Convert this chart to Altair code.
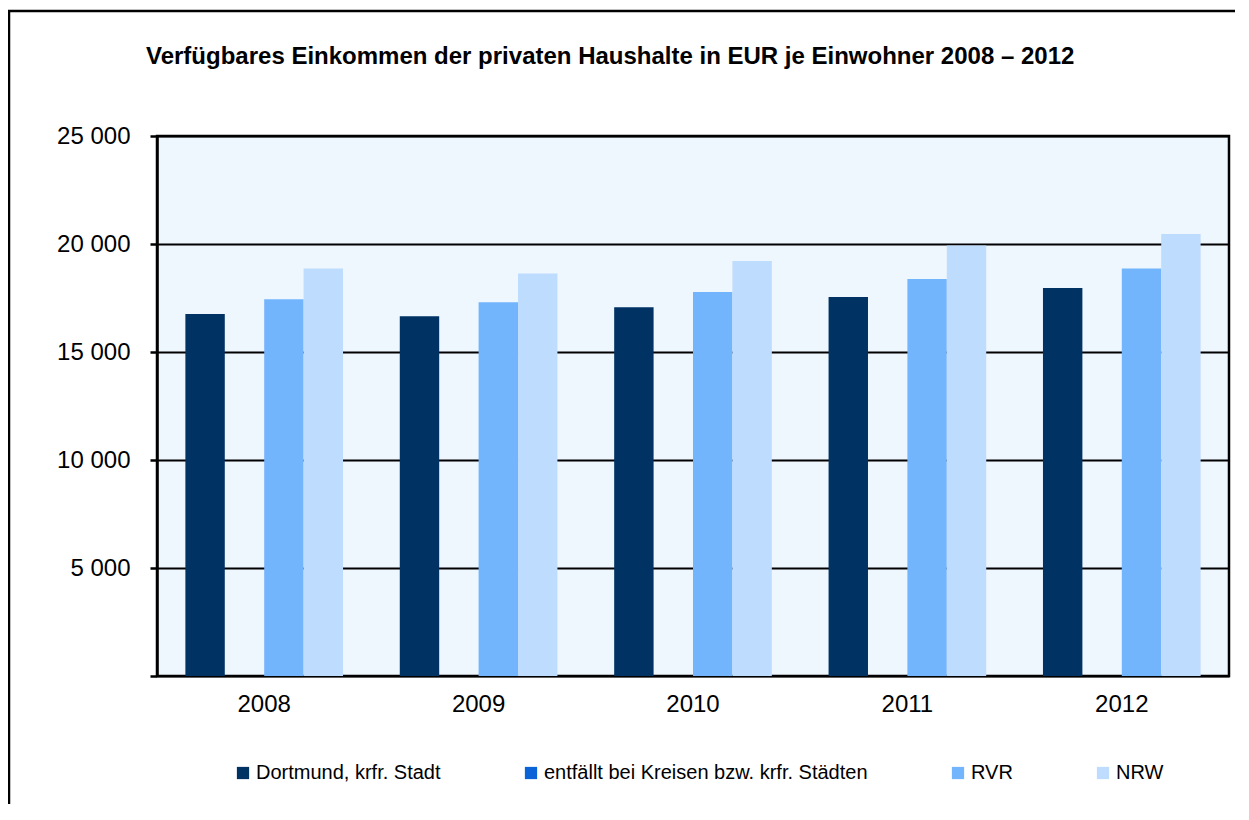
import altair as alt
import pandas as pd

years = ["2008", "2009", "2010", "2011", "2012"]
series = ["Dortmund, krfr. Stadt", "entfällt bei Kreisen bzw. krfr. Städten", "RVR", "NRW"]
dortmund = [16760, 16650, 17070, 17550, 17960]
rvr = [17440, 17300, 17780, 18380, 18870]
nrw = [18860, 18640, 19210, 19930, 20460]
colors = ["#013264", "#0A64D8", "#73B5FC", "#BEDCFE"]
y_ticks = [0, 5000, 10000, 15000, 20000, 25000]
title = "Verfügbares Einkommen der privaten Haushalte in EUR je Einwohner 2008 – 2012"

rows = []
for name, vals in [(series[0], dortmund), (series[2], rvr), (series[3], nrw)]:
    for yr, v in zip(years, vals):
        rows.append({"Jahr": yr, "Reihe": name, "Wert": v})
df = pd.DataFrame(rows)

FONT = "Liberation Sans"

bars = alt.Chart(df).mark_bar(cornerRadius=0).encode(
    x=alt.X("Jahr:N", sort=years, title=None,
            scale=alt.Scale(paddingInner=0, paddingOuter=0),
            axis=alt.Axis(labelAngle=0, ticks=False, domain=False, labelPadding=16,
                          labelFontSize=24, labelFont=FONT, labelColor="black",
                          grid=False)),
    xOffset=alt.XOffset("Reihe:N", sort=series,
                        scale=alt.Scale(domain=series, paddingInner=0, paddingOuter=0.72)),
    y=alt.Y("Wert:Q", title=None,
            scale=alt.Scale(domain=[0, 25000], nice=False),
            axis=alt.Axis(values=y_ticks, tickSize=7, tickColor="black", tickWidth=2.5,
                          domainColor="black", domainWidth=2.5,
                          gridColor="black", gridWidth=2.2, gridOpacity=1,
                          labelPadding=20, labelFontSize=24, labelFont=FONT, labelColor="black",
                          labelExpr="datum.value == 0 ? '' : replace(format(datum.value, ','), ',', ' ')")),
    color=alt.Color("Reihe:N", sort=series,
                    scale=alt.Scale(domain=series, range=colors),
                    legend=alt.Legend(title=None, orient="none", direction="horizontal",
                                      columns=4, legendX=76, legendY=627,
                                      symbolType="square", symbolSize=150, symbolStrokeWidth=0,
                                      symbolOpacity=1,
                                      labelFontSize=20, labelFont=FONT, labelColor="black",
                                      labelOffset=3, columnPadding=80, padding=0,
                                      labelLimit=600)),
)

frame_df = pd.DataFrame({"k": [0]})
frame_v = alt.Chart(frame_df).mark_rule(color="black", strokeWidth=2.5).encode(
    x=alt.value(-148), y=alt.value(-125), y2=alt.value(720))
frame_h = alt.Chart(frame_df).mark_rule(color="black", strokeWidth=2.5).encode(
    x=alt.value(-149), x2=alt.value(1200), y=alt.value(-125))
title_text = alt.Chart(frame_df).mark_text(
    text=title, align="left", baseline="middle", fontSize=24, fontWeight="bold",
    font=FONT, color="black").encode(x=alt.value(-11), y=alt.value(-79))

chart = alt.layer(bars, frame_v, frame_h, title_text).properties(
    width=1072, height=540,
    autosize=alt.AutoSizeParams(type="none"),
    padding={"left": 149, "top": 128, "right": 6, "bottom": 128},
    background="white",
).configure_view(stroke="black", strokeWidth=2.5, fill="#EEF6FE")

chart.save("out.html", embed_options={"renderer": "svg", "actions": False})
